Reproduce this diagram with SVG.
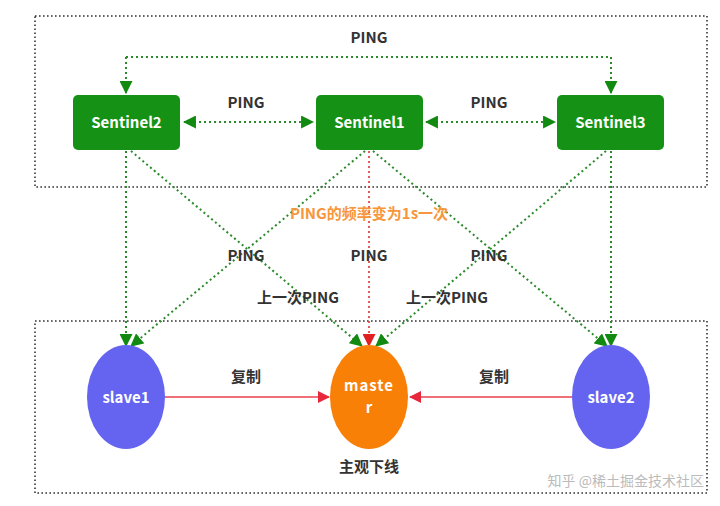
<svg xmlns="http://www.w3.org/2000/svg" width="720" height="506" viewBox="0 0 720 506">
<defs>
<style>
.frame{fill:none;stroke:#333;stroke-width:1.6;stroke-dasharray:1.6 2.4}
.sen{fill:#159215;}
.st{fill:#fff;font-family:"Noto Sans CJK SC","Liberation Sans",sans-serif;font-weight:bold;font-size:15px;text-anchor:middle}
.lbl{fill:#333;font-family:"Noto Sans CJK SC","Liberation Sans",sans-serif;font-weight:bold;font-size:15px;text-anchor:middle}
.g{fill:none;stroke:#2a8a2a;stroke-width:2;stroke-dasharray:2 3}
.r{fill:none;stroke:#d33;stroke-width:1.6;stroke-dasharray:2 3}
.rep{fill:none;stroke:#f0707a;stroke-width:2}
</style>
<marker id="ga" viewBox="0 0 12 12" refX="11" refY="6" markerWidth="13" markerHeight="13" markerUnits="userSpaceOnUse" orient="auto-start-reverse"><path d="M0,0 L12,6 L0,12 Z" fill="#128a12"/></marker>
<marker id="ra" viewBox="0 0 12 12" refX="11" refY="6" markerWidth="13" markerHeight="13" markerUnits="userSpaceOnUse" orient="auto"><path d="M0,0 L12,6 L0,12 Z" fill="#e02020"/></marker>
<marker id="pa" viewBox="0 0 12 12" refX="11" refY="6" markerWidth="12" markerHeight="12" markerUnits="userSpaceOnUse" orient="auto"><path d="M0,0 L12,6 L0,12 Z" fill="#e8283a"/></marker>
</defs>
<rect width="720" height="506" fill="#fff"/>
<rect class="frame" x="35" y="16" width="672" height="171"/>
<rect class="frame" x="35" y="321" width="672" height="172"/>
<g id="connectors">
<path class="g" d="M126,57 H611 V93" marker-end="url(#ga)"/>
<path class="g" d="M126,57 V93" marker-end="url(#ga)"/>
<path class="g" d="M184,122 H313" marker-start="url(#ga)" marker-end="url(#ga)"/>
<path class="g" d="M426,122 H555" marker-start="url(#ga)" marker-end="url(#ga)"/>
<path class="g" d="M126,151 V346" marker-end="url(#ga)"/>
<path class="g" d="M131,151 L362,346" marker-end="url(#ga)"/>
<path class="g" d="M365,151 L131,346" marker-end="url(#ga)"/>
<path class="g" d="M373,151 L607,346" marker-end="url(#ga)"/>
<path class="g" d="M606,151 L376,346" marker-end="url(#ga)"/>
<path class="g" d="M611,151 V346" marker-end="url(#ga)"/>
<path class="r" d="M369,151 V346" marker-end="url(#ra)"/>
<path class="rep" d="M165,397 H329" marker-end="url(#pa)"/>
<path class="rep" d="M572,397 H410" marker-end="url(#pa)"/>
</g>
<g id="sentinel2"><rect class="sen" x="73" y="95" width="107" height="55" rx="5"/><text class="st" x="126.5" y="128">Sentinel2</text></g>
<g id="sentinel1"><rect class="sen" x="316" y="95" width="107" height="55" rx="5"/><text class="st" x="369.5" y="128">Sentinel1</text></g>
<g id="sentinel3"><rect class="sen" x="557" y="95" width="107" height="55" rx="5"/><text class="st" x="610.5" y="128">Sentinel3</text></g>
<g id="slave1"><ellipse cx="126" cy="397" rx="39" ry="52" fill="#6464f0"/><text class="st" x="126" y="403">slave1</text></g>
<g id="master"><ellipse cx="369" cy="397" rx="39" ry="52" fill="#f98006"/><text class="st" x="369" y="391" letter-spacing="1">maste</text><text class="st" x="369" y="413">r</text></g>
<g id="slave2"><ellipse cx="611" cy="397" rx="39" ry="52" fill="#6464f0"/><text class="st" x="611" y="403">slave2</text></g>
<g id="labels">
<text class="lbl" x="369" y="43">PING</text>
<text class="lbl" x="246" y="108">PING</text>
<text class="lbl" x="489" y="108">PING</text>
<text class="lbl" x="369" y="219" style="fill:#f7963a">PING的频率变为1s一次</text>
<text class="lbl" x="246" y="261">PING</text>
<text class="lbl" x="369" y="261">PING</text>
<text class="lbl" x="489" y="261">PING</text>
<text class="lbl" x="298" y="303">上一次PING</text>
<text class="lbl" x="447" y="303">上一次PING</text>
<text class="lbl" x="246" y="382">复制</text>
<text class="lbl" x="494" y="382">复制</text>
<text class="lbl" x="369" y="472">主观下线</text>
<text x="704" y="486" style="fill:#bbb;font-family:'Noto Sans CJK SC',sans-serif;font-size:14px;text-anchor:end">知乎 @稀土掘金技术社区</text>
</g>
</svg>
